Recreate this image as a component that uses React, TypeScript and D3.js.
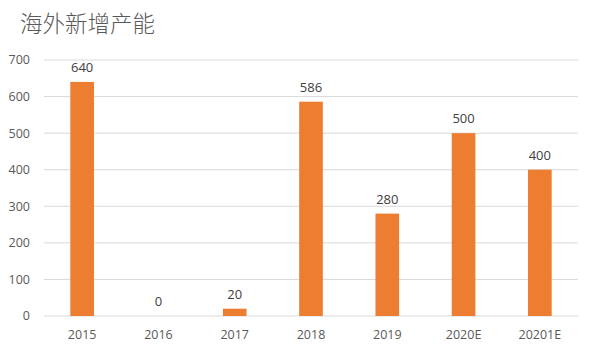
import React from "react";
import * as d3 from "d3";

const categories = ["2015", "2016", "2017", "2018", "2019", "2020E", "20201E"];
const values = [640, 0, 20, 586, 280, 500, 400];
const yTicks = [0, 100, 200, 300, 400, 500, 600, 700];
const title = "海外新增产能";

export default function App() {
  const W = 596, H = 353;
  const left = 44, right = 578, top = 60, bottom = 316;
  const x = d3.scaleBand<string>().domain(categories).range([left, right]).paddingInner(0.69).paddingOuter(0.345);
  const y = d3.scaleLinear().domain([0, 700]).range([bottom, top]);
  const font = "'Open Sans', 'Noto Sans CJK SC', sans-serif";
  return (
    <svg width={W} height={H} style={{ position: "absolute", left: 0, top: 0, background: "#fff" }}>
      <text x={20} y={32} fontSize={22.5} fill="#595959" fontFamily="'Noto Sans CJK SC', sans-serif" fontWeight={300}>{title}</text>
      {yTicks.map((t) => (
        <g key={t}>
          <line x1={left} x2={right} y1={y(t)} y2={y(t)} stroke="#d9d9d9" strokeWidth={1} />
          <text x={30} y={y(t)} dy="0.35em" textAnchor="end" fontSize={12.5} fill="#595959" fontFamily={font}>{t}</text>
        </g>
      ))}
      {categories.map((c, i) => (
        <g key={c}>
          <rect x={x(c)} width={x.bandwidth()} y={y(values[i])} height={bottom - y(values[i])} fill="#ED7D31" />
          <text x={(x(c) as number) + x.bandwidth() / 2} y={y(values[i]) - 10} textAnchor="middle" fontSize={13} fill="#404040" fontFamily={font}>{values[i]}</text>
          <text x={(x(c) as number) + x.bandwidth() / 2} y={335} dy="0.35em" textAnchor="middle" fontSize={12.5} fill="#595959" fontFamily={font}>{c}</text>
        </g>
      ))}
    </svg>
  );
}
